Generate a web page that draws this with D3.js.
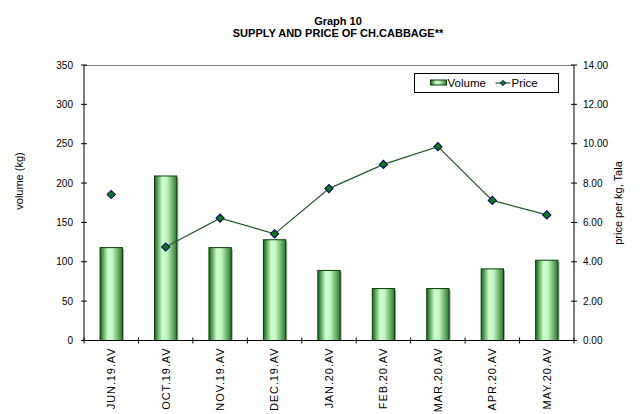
<!DOCTYPE html>
<html>
<head>
<meta charset="utf-8">
<script src="https://cdn.jsdelivr.net/npm/d3@7"></script>
<style>
  body { margin: 0; background: #fff; }
  svg { font-family: "Liberation Sans", Arial, sans-serif; }
</style>
</head>
<body>
<div id="chart"></div>
<script>
// months, values
const months = ["JUN.19.AV", "OCT.19.AV", "NOV.19.AV", "DEC.19.AV", "JAN.20.AV",
  "FEB.20.AV", "MAR.20.AV", "APR.20.AV", "MAY.20.AV"];
const volume = [118, 209, 118, 128, 89, 66, 66, 91, 102];
const price = [7.42, 4.75, 6.22, 5.42, 7.72, 8.95, 9.85, 7.12, 6.38];
const volumeTicks = [0, 50, 100, 150, 200, 250, 300, 350];
const priceTicks = [0, 2, 4, 6, 8, 10, 12, 14];

const width = 643, height = 414;
const margin = { top: 65, right: 69, bottom: 73.5, left: 84 };
const w = width - margin.left - margin.right;
const h = height - margin.top - margin.bottom;

const svg = d3.select("#chart").append("svg")
  .attr("width", width)
  .attr("height", height);

const defs = svg.append("defs");
const grad = defs.append("linearGradient").attr("id", "barGrad")
  .attr("x1", "0%").attr("x2", "100%").attr("y1", "0%").attr("y2", "0%");
grad.append("stop").attr("offset", "0%").attr("stop-color", "#146414");
grad.append("stop").attr("offset", "35%").attr("stop-color", "#ccffcc");
grad.append("stop").attr("offset", "55%").attr("stop-color", "#c4f7c4");
grad.append("stop").attr("offset", "100%").attr("stop-color", "#2a7a2a");

// title
svg.append("text")
  .attr("x", 338).attr("y", 25)
  .attr("text-anchor", "middle")
  .style("font-size", "11px").style("font-weight", "bold")
  .text("Graph 10");
svg.append("text")
  .attr("x", 338).attr("y", 37)
  .attr("text-anchor", "middle")
  .style("font-size", "11px").style("font-weight", "bold")
  .text("SUPPLY AND PRICE OF CH.CABBAGE**");

const g = svg.append("g")
  .attr("transform", "translate(" + margin.left + "," + margin.top + ")");

const x = d3.scaleBand().domain(months).range([0, w]).padding(0);
const yVol = d3.scaleLinear().domain([0, 350]).range([h, 0]);
const yPrice = d3.scaleLinear().domain([0, 14]).range([h, 0]);

// top border of plot area
g.append("line")
  .attr("x1", 0).attr("x2", w).attr("y1", 0.5).attr("y2", 0.5)
  .attr("stroke", "#808080");

// bars
const barW = x.bandwidth() * 0.41;
g.selectAll(".shadow")
  .data(volume)
  .enter()
  .append("rect")
  .attr("class", "shadow")
  .attr("x", (d, i) => x(months[i]) + x.bandwidth() / 2 - barW / 2 + 1.5)
  .attr("y", d => yVol(d) + 1.5)
  .attr("width", barW)
  .attr("height", d => h - yVol(d) - 1.5)
  .attr("fill", "#a8a8a8");

g.selectAll(".bar")
  .data(volume)
  .enter()
  .append("rect")
  .attr("class", "bar")
  .attr("x", (d, i) => x(months[i]) + x.bandwidth() / 2 - barW / 2)
  .attr("y", d => yVol(d))
  .attr("width", barW)
  .attr("height", d => h - yVol(d))
  .attr("fill", "url(#barGrad)")
  .attr("stroke", "#0b3d0b")
  .attr("stroke-width", 1);

// axes
const xAxis = g.append("g")
  .attr("transform", "translate(0," + h + ")");
xAxis.append("line")
  .attr("x1", 0).attr("x2", w).attr("y1", 0).attr("y2", 0)
  .attr("stroke", "#000");
xAxis.selectAll(".xt")
  .data(d3.range(months.length + 1))
  .enter()
  .append("line")
  .attr("x1", i => i * x.step()).attr("x2", i => i * x.step())
  .attr("y1", -3).attr("y2", 3)
  .attr("stroke", "#000");
xAxis.selectAll(".xl")
  .data(months)
  .enter()
  .append("text")
  .attr("transform", d => "translate(" + (x(d) + x.bandwidth() / 2) + ",7) rotate(-90)")
  .attr("dy", "0.35em")
  .attr("text-anchor", "end")
  .style("font-size", "11px")
  .style("letter-spacing", "0.9px")
  .text(d => d);

const yAxisL = g.append("g");
yAxisL.append("line")
  .attr("x1", 0).attr("x2", 0).attr("y1", 0).attr("y2", h)
  .attr("stroke", "#000");
yAxisL.selectAll(".t")
  .data(volumeTicks)
  .enter()
  .append("line")
  .attr("x1", -3).attr("x2", 3)
  .attr("y1", d => yVol(d)).attr("y2", d => yVol(d))
  .attr("stroke", "#000");
yAxisL.selectAll(".l")
  .data(volumeTicks)
  .enter()
  .append("text")
  .attr("x", -11).attr("y", d => yVol(d))
  .attr("dy", "0.35em")
  .attr("text-anchor", "end")
  .style("font-size", "10px")
  .text(d => d);

const yAxisR = g.append("g").attr("transform", "translate(" + w + ",0)");
yAxisR.append("line")
  .attr("x1", 0).attr("x2", 0).attr("y1", 0).attr("y2", h)
  .attr("stroke", "#000");
yAxisR.selectAll(".t")
  .data(priceTicks)
  .enter()
  .append("line")
  .attr("x1", -3).attr("x2", 3)
  .attr("y1", d => yPrice(d)).attr("y2", d => yPrice(d))
  .attr("stroke", "#000");
yAxisR.selectAll(".l")
  .data(priceTicks)
  .enter()
  .append("text")
  .attr("x", 9).attr("y", d => yPrice(d))
  .attr("dy", "0.35em")
  .style("font-size", "10px")
  .text(d => d.toFixed(2));

// axis titles
svg.append("text")
  .attr("transform", "translate(23,181) rotate(-90)")
  .attr("text-anchor", "middle")
  .style("font-size", "11px")
  .text("volume (kg)");
svg.append("text")
  .attr("transform", "translate(622,203) rotate(-90)")
  .attr("text-anchor", "middle")
  .style("font-size", "11px")
  .text("price per kg, Tala");

// price line (no link from JUN, months in between are missing)
const line = d3.line()
  .defined((d, i) => i > 0)
  .x((d, i) => x(months[i]) + x.bandwidth() / 2)
  .y(d => yPrice(d));
g.append("path")
  .datum(price)
  .attr("d", line)
  .attr("fill", "none")
  .attr("stroke", "#24582a")
  .attr("stroke-width", 1.2);

const diamond = d3.symbol().type(d3.symbolSquare).size(34);
g.selectAll(".pt")
  .data(price)
  .enter()
  .append("path")
  .attr("class", "pt")
  .attr("d", diamond)
  .attr("transform", (d, i) => "translate(" + (x(months[i]) + x.bandwidth() / 2) + "," + yPrice(d) + ") rotate(45)")
  .attr("fill", "#0a7a0a")
  .attr("stroke", "#000080")
  .attr("stroke-width", 1);

// legend
const lg = svg.append("g").attr("transform", "translate(414.5,73.5)");
lg.append("rect")
  .attr("width", 144).attr("height", 19)
  .attr("fill", "#fff").attr("stroke", "#000");
lg.append("rect")
  .attr("x", 16).attr("y", 6.5).attr("width", 16).attr("height", 5)
  .attr("fill", "url(#barGrad)").attr("stroke", "#0b3d0b");
lg.append("text")
  .attr("x", 33).attr("y", 9.5).attr("dy", "0.35em")
  .style("font-size", "11.5px")
  .text("Volume");
lg.append("line")
  .attr("x1", 81).attr("x2", 96).attr("y1", 9.5).attr("y2", 9.5)
  .attr("stroke", "#24582a").attr("stroke-width", 1.2);
lg.append("path")
  .attr("d", d3.symbol().type(d3.symbolSquare).size(14))
  .attr("transform", "translate(88.5,9.5) rotate(45)")
  .attr("fill", "#0a7a0a").attr("stroke", "#000080").attr("stroke-width", 0.8);
lg.append("text")
  .attr("x", 97).attr("y", 9.5).attr("dy", "0.35em")
  .style("font-size", "11.5px")
  .text("Price");
</script>
</body>
</html>
